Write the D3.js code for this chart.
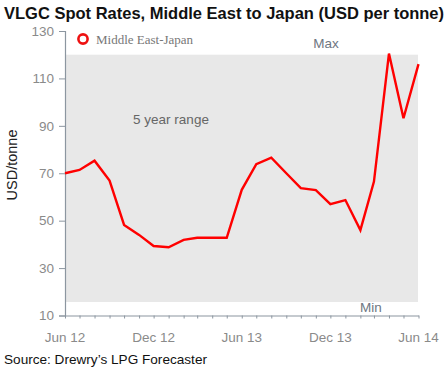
<!DOCTYPE html>
<html>
<head>
<meta charset="utf-8">
<script src="https://cdn.jsdelivr.net/npm/d3@7"></script>
<style>
  html, body { margin: 0; padding: 0; background: #fff; }
  svg { display: block; }
</style>
</head>
<body>
<svg id="chart" width="448" height="369"></svg>
<script>
// ---- Data ----
const months = ["2012-06","2012-07","2012-08","2012-09","2012-10","2012-11","2012-12",
  "2013-01","2013-02","2013-03","2013-04","2013-05","2013-06","2013-07","2013-08",
  "2013-09","2013-10","2013-11","2013-12","2014-01","2014-02","2014-03","2014-04",
  "2014-05","2014-06"];
const rates = [70, 71.4, 75.3, 66.9, 48.2, 44, 39.3, 38.8, 41.9, 42.8, 42.8, 42.8, 63,
  73.8, 76.6, 70, 63.7, 62.9, 57, 58.7, 46, 66.5, 120.5, 93.2, 116];
const rangeMax = 120;
const rangeMin = 15.7;
const yTicks = [10, 30, 50, 70, 90, 110, 130];
const xTickLabels = ["2012-06", "2012-12", "2013-06", "2013-12", "2014-06"];
const seriesName = "Middle East-Japan";

// ---- Chart ----
const svg = d3.select("#chart");
const parse = d3.timeParse("%Y-%m");
const data = months.map((m, i) => ({ date: parse(m), v: rates[i] }));

const x = d3.scaleTime()
  .domain([parse(months[0]), parse(months[months.length - 1])])
  .range([65, 418.5]);
const y = d3.scaleLinear().domain([10, 130]).range([315.5, 31]);

const axisColor = "#8c96a0";
const labelColor = "#8a8a8a";

// title
svg.append("text")
  .attr("x", 4).attr("y", 18.5)
  .attr("font-family", "Liberation Sans, Arial, sans-serif")
  .attr("font-weight", "bold").attr("font-size", 16.5)
  .attr("fill", "#111")
  .text("VLGC Spot Rates, Middle East to Japan (USD per tonne)");

// range band
svg.append("rect")
  .attr("x", x(parse(months[0])) + 1)
  .attr("y", y(rangeMax))
  .attr("width", x(parse(months[months.length - 1])) - x(parse(months[0])) - 1.5)
  .attr("height", y(rangeMin) - y(rangeMax))
  .attr("fill", "#e8e8e8");

// y axis
const yAxis = svg.append("g").attr("transform", "translate(65,0)")
  .call(d3.axisLeft(y).tickValues(yTicks).tickSize(6).tickPadding(5));
yAxis.select(".domain").attr("stroke", axisColor).attr("stroke-width", 1.2);
yAxis.selectAll(".tick line").attr("stroke", axisColor);
yAxis.selectAll(".tick text")
  .attr("font-family", "Liberation Sans, Arial, sans-serif")
  .attr("font-size", 13.5).attr("fill", labelColor);

// x axis
const xAxis = svg.append("g").attr("transform", "translate(0,315.5)")
  .call(d3.axisBottom(x).ticks(d3.timeMonth.every(1)).tickSize(3).tickSizeOuter(0)
    .tickFormat(() => ""));
xAxis.select(".domain").attr("stroke", axisColor).attr("stroke-width", 1.2);
xAxis.selectAll(".tick line").attr("stroke", axisColor);

const fmt = d3.timeFormat("%b %y");
svg.append("g").selectAll("text")
  .data(xTickLabels.map(parse))
  .join("text")
  .attr("x", d => x(d)).attr("y", 342)
  .attr("text-anchor", "middle")
  .attr("font-family", "Liberation Sans, Arial, sans-serif")
  .attr("font-size", 13.5).attr("fill", labelColor)
  .text(d => fmt(d));

// y label
svg.append("text")
  .attr("transform", "translate(17,165) rotate(-90)")
  .attr("text-anchor", "middle")
  .attr("font-family", "Liberation Sans, Arial, sans-serif")
  .attr("font-size", 14.5).attr("fill", "#222")
  .text("USD/tonne");

// band labels
const bandText = (t, xx, yy) => svg.append("text")
  .attr("x", xx).attr("y", yy).attr("text-anchor", "middle")
  .attr("font-family", "Liberation Sans, Arial, sans-serif")
  .attr("font-size", 13.5).attr("fill", "#6e7782").text(t);
bandText("Max", 326, 48);
bandText("Min", 371, 312);
bandText("5 year range", 171, 124).attr("fill", "#666");

// line
svg.append("path").datum(data)
  .attr("fill", "none").attr("stroke", "#ff0000")
  .attr("stroke-width", 2.4).attr("stroke-linejoin", "miter")
  .attr("d", d3.line().x(d => x(d.date)).y(d => y(d.v)));

// legend
svg.append("circle").attr("cx", 83).attr("cy", 39).attr("r", 4.6)
  .attr("fill", "none").attr("stroke", "#ee1111").attr("stroke-width", 2.6);
svg.append("text").attr("x", 96).attr("y", 43.5)
  .attr("font-family", "Liberation Serif, Times New Roman, serif")
  .attr("font-size", 13).attr("fill", "#777")
  .text(seriesName);

// source
svg.append("text").attr("x", 4).attr("y", 364)
  .attr("font-family", "Liberation Sans, Arial, sans-serif")
  .attr("font-size", 13.6).attr("fill", "#111")
  .text("Source: Drewry\u2019s LPG Forecaster");
</script>
</body>
</html>
